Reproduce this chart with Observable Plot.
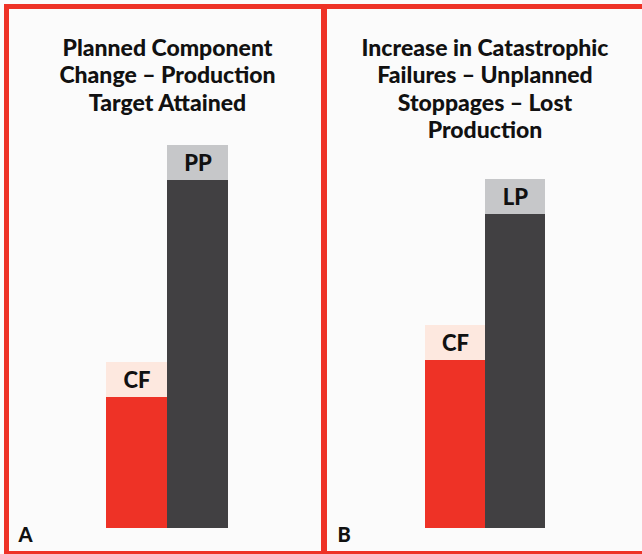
<!DOCTYPE html>
<html>
<head>
<meta charset="utf-8">
<script src="https://cdn.jsdelivr.net/npm/d3@7"></script>
<script src="https://cdn.jsdelivr.net/npm/@observablehq/plot@0.6"></script>
<style>
  html, body { margin: 0; padding: 0; background: #fbfbfb; }
  #wrap { position: relative; width: 642px; height: 554px; overflow: hidden; background: #fbfbfb; }
  .panel { position: absolute; top: 0; }
  .panel svg { display: block; background: transparent; }
  .border { position: absolute; box-sizing: border-box; border: 5px solid #ee3226; pointer-events: none; }
</style>
</head>
<body>
<div id="wrap">
  <div class="border" style="left:4px; top:4px; width:320px; height:552px; border-right-width:3px;"></div>
  <div class="border" style="left:324px; top:4px; width:330px; height:552px; border-left-width:3px;"></div>
  <div class="panel" id="pA" style="left:0px;"></div>
  <div class="panel" id="pB" style="left:326px;"></div>
</div>
<script>
// ---- data ----
const categoriesA = ["CF", "PP"];
const valuesA = [32.75, 87];
const categoriesB = ["CF", "LP"];
const valuesB = [42, 78.5];
const labelBand = 8.75;   // height of the label box on top of each bar (value units)
const titleA = "Planned Component\nChange – Production\nTarget Attained";
const titleB = "Increase in Catastrophic\nFailures – Unplanned\nStoppages – Lost\nProduction";
const panelLetters = ["A", "B"];

const barFills = ["#ee3226", "#414042"];
const boxFills = ["#fde8df", "#c6c7c9"];
const FONT = "Lato, 'Noto Sans', sans-serif";

function panel(categories, values, title, letter, opts) {
  const data = categories.map((c, i) => ({cat: c, value: values[i], i}));
  return Plot.plot({
    width: opts.width,
    height: 554,
    marginLeft: opts.ml,
    marginRight: opts.mr,
    marginTop: 128,
    marginBottom: 26,
    style: {fontFamily: FONT, background: "transparent", overflow: "visible"},
    x: {domain: categories, padding: 0, axis: null},
    y: {domain: [0, 100], axis: null},
    marks: [
      Plot.barY(data, {x: "cat", y1: 0, y2: "value", fill: d => barFills[d.i], inset: 0}),
      Plot.barY(data, {x: "cat", y1: "value", y2: d => d.value + labelBand, fill: d => boxFills[d.i], inset: 0}),
      Plot.text(data, {x: "cat", y: d => d.value + labelBand / 2, text: "cat", fontSize: 22, fontWeight: 900, fill: "#111", dy: 1}),
      Plot.text([title], {frameAnchor: "top", lineAnchor: "top", text: d => d, dy: -92, fontSize: 23, fontWeight: 900, fill: "#111", lineHeight: 1.19}),
      Plot.text([letter], {frameAnchor: "bottom-left", lineAnchor: "bottom", textAnchor: "start", text: d => d, dx: opts.letterDx, dy: 13, fontSize: 20, fontWeight: 900, fill: "#111"})
    ]
  });
}

document.getElementById("pA").appendChild(panel(categoriesA, valuesA, titleA, panelLetters[0], {width: 326, ml: 106, mr: 98, letterDx: -88}));
document.getElementById("pB").appendChild(panel(categoriesB, valuesB, titleB, panelLetters[1], {width: 316, ml: 98, mr: 97, letterDx: -87}));
</script>
</body>
</html>
